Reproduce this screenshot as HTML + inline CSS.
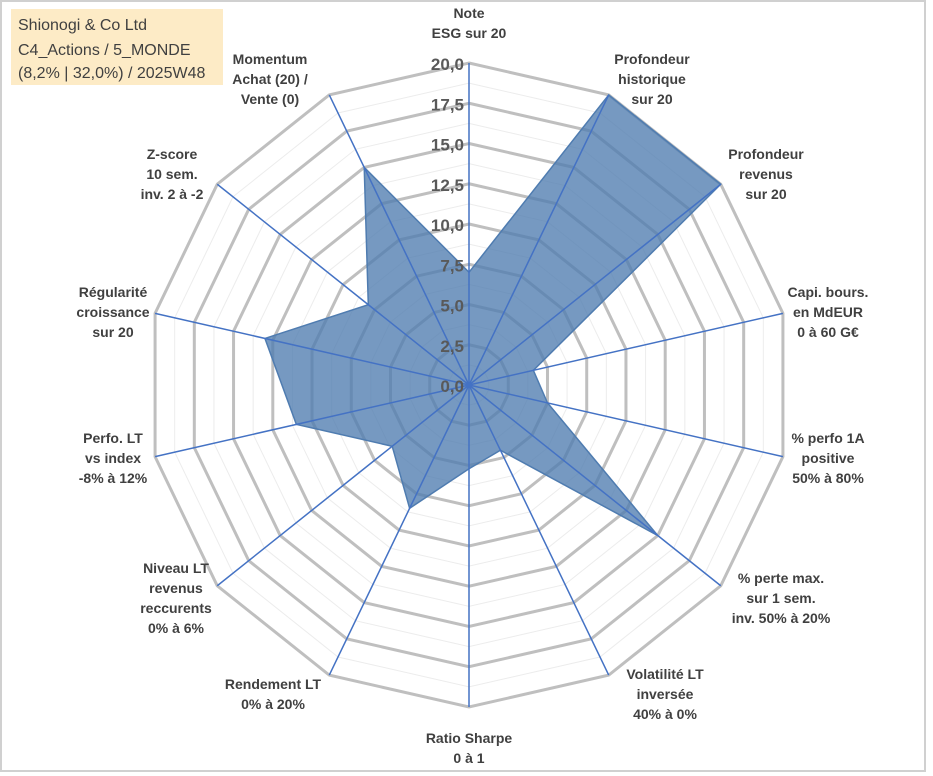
<!DOCTYPE html>
<html><head><meta charset="utf-8"><style>
body{margin:0;background:#fff;}
#c{position:relative;width:933px;height:776px;overflow:hidden;font-family:"Liberation Sans",sans-serif;}
</style></head><body>
<div id="c">
<svg id="s" width="933" height="776">
<rect x="1" y="1" width="924" height="770" fill="#fff" stroke="#d0d0d0" stroke-width="2"/>
<rect x="11" y="9" width="212" height="76" fill="#fdebc6"/>
<text x="18" y="30" font-size="16" fill="#404040">Shionogi &amp; Co Ltd</text>
<text x="18" y="55" font-size="16" fill="#404040">C4_Actions / 5_MONDE</text>
<text x="18" y="78" font-size="16" fill="#404040">(8,2% | 32,0%) / 2025W48</text>
</svg>
</div>
<script>
const categories=["Note ESG","Profondeur historique","Profondeur revenus","Capi. bours.","% perfo 1A","% perte max.","Volatilité LT","Ratio Sharpe","Rendement LT","Niveau LT revenus","Perfo. LT","Régularité croissance","Z-score","Momentum"];
const values=[7,20,20,4.1,5,15,4.5,5.2,8.5,6.1,11,13,8,15];
const tickLabels=["0,0","2,5","5,0","7,5","10,0","12,5","15,0","17,5","20,0"];
const tickValues=[0,2.5,5,7.5,10,12.5,15,17.5,20];
const maxV=20;
const labels=[
 {t:["Note","ESG sur 20"],x:469,y:18},
 {t:["Profondeur","historique","sur 20"],x:652,y:64},
 {t:["Profondeur","revenus","sur 20"],x:766,y:159},
 {t:["Capi. bours.","en MdEUR","0 à 60 G€"],x:828,y:297},
 {t:["% perfo 1A","positive","50% à 80%"],x:828,y:443},
 {t:["% perte max.","sur 1 sem.","inv. 50% à 20%"],x:781,y:583},
 {t:["Volatilité LT","inversée","40% à 0%"],x:665,y:679},
 {t:["Ratio Sharpe","0 à 1"],x:469,y:743},
 {t:["Rendement LT","0% à 20%"],x:273,y:689},
 {t:["Niveau LT","revenus","reccurents","0% à 6%"],x:176,y:573},
 {t:["Perfo. LT","vs index","-8% à 12%"],x:113,y:443},
 {t:["Régularité","croissance","sur 20"],x:113,y:297},
 {t:["Z-score","10 sem.","inv. 2 à -2"],x:172,y:159},
 {t:["Momentum","Achat (20) /","Vente (0)"],x:270,y:64}
];
const cx=469,cy=385,R=322,N=categories.length;
const svg=document.getElementById('s');
const NS="http://www.w3.org/2000/svg";
function ang(i){return i*2*Math.PI/N;}
function pt(i,v){const r=v/maxV*R;return [cx+r*Math.sin(ang(i)),cy-r*Math.cos(ang(i))];}
function mk(tag,attrs){const e=document.createElementNS(NS,tag);for(const k in attrs)e.setAttribute(k,attrs[k]);svg.appendChild(e);return e;}
for(let k=1;k<=16;k++){
 const v=k*1.25;
 const p=[];for(let i=0;i<N;i++)p.push(pt(i,v).join(','));
 const major=(k%2===0);
 const e=mk('polygon',{points:p.join(' '),fill:'none',stroke:major?'#bfbfbf':'#ececec','stroke-width':major?3:1});
 
 
}
const dp=values.map((v,i)=>pt(i,v).join(','));
const poly=mk('polygon',{points:dp.join(' '),fill:'rgba(79,124,176,0.78)',stroke:'#4f7cb0','stroke-width':1.5});


for(let i=0;i<N;i++){
 const [x,y]=pt(i,maxV);
 const l=mk('line',{x1:cx,y1:cy,x2:x,y2:y,stroke:'#4472c4','stroke-width':1.5});
 
 
}
mk('circle',{cx:cx,cy:cy,r:3,fill:'#4472c4'});
tickValues.forEach((v,i)=>{
 const y=cy-v/maxV*R;
 const t=mk('text',{x:cx-5,y:y+7,'text-anchor':'end','font-size':17,'font-weight':'bold',fill:'#595959'});
 t.textContent=tickLabels[i];
 
 
});
labels.forEach((L,i)=>{
 const t=mk('text',{x:L.x,y:L.y,'text-anchor':'middle','font-size':14,'font-weight':'bold',fill:'#404040'});
 L.t.forEach((s,j)=>{const ts=document.createElementNS(NS,'tspan');ts.setAttribute('x',L.x);ts.setAttribute('dy',j===0?0:20);ts.textContent=s;t.appendChild(ts);});
 
 
});
</script>
</body></html>
